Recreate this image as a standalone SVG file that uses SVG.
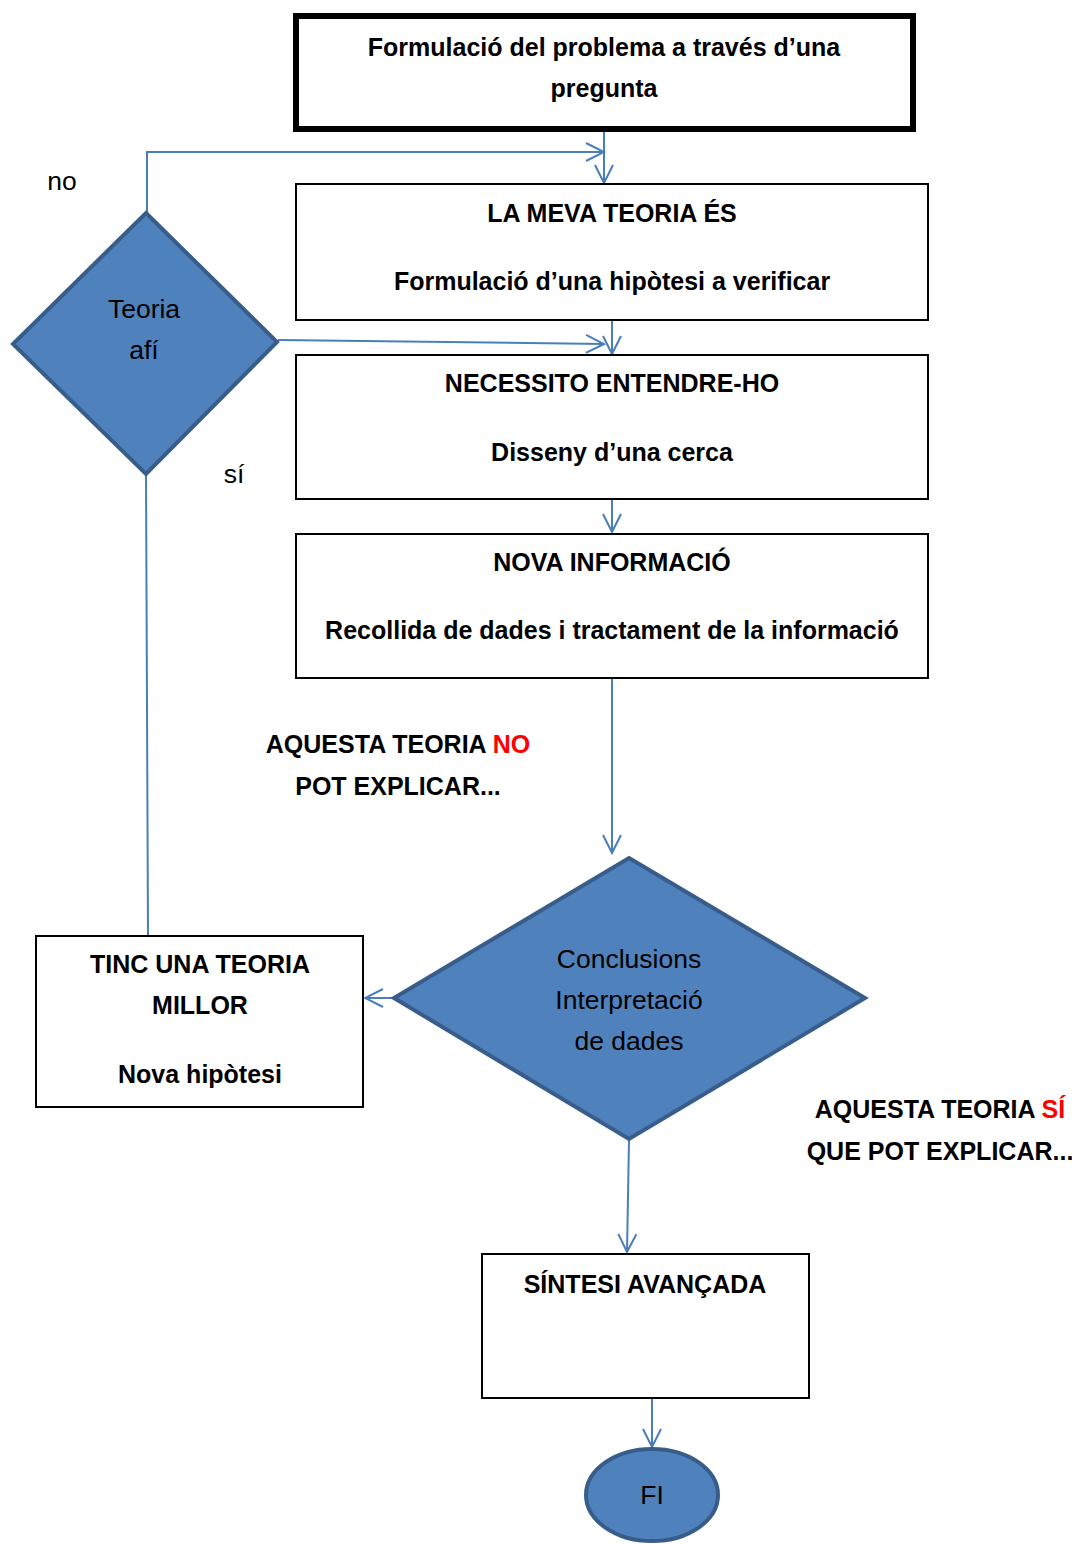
<svg xmlns="http://www.w3.org/2000/svg" width="1072" height="1544" viewBox="0 0 1072 1544">
<defs>
<marker id="arr" markerUnits="userSpaceOnUse" markerWidth="22" markerHeight="22" viewBox="0 0 22 22" refX="20" refY="11" orient="auto">
<path d="M2,2 L20,11 L2,20" fill="none" stroke="#4a7ebb" stroke-width="2"/>
</marker>
<style>
text{font-family:"Liberation Sans",Arial,sans-serif;fill:#000;text-anchor:middle}
.b{font-weight:bold;font-size:25px}
.n{font-size:26.5px}
.box{fill:#fff;stroke:#000;stroke-width:2}
.dia{fill:#4f81bd;stroke:#385d8a;stroke-width:4;stroke-linejoin:miter}
.c{fill:none;stroke:#4a7ebb;stroke-width:2}
.red{fill:#ff0000}
</style>
</defs>
<g id="connectors">
<line class="c" x1="604" y1="132" x2="604" y2="183" marker-end="url(#arr)"/>
<polyline class="c" points="147,212 147,152 604,152" marker-end="url(#arr)"/>
<line class="c" x1="612" y1="320" x2="612" y2="354" marker-end="url(#arr)"/>
<line class="c" x1="278" y1="340" x2="604" y2="344" marker-end="url(#arr)"/>
<line class="c" x1="612" y1="499" x2="612" y2="532" marker-end="url(#arr)"/>
<line class="c" x1="612" y1="678" x2="612" y2="853" marker-end="url(#arr)"/>
<line class="c" x1="393" y1="998" x2="365" y2="998" marker-end="url(#arr)"/>
<line class="c" x1="146" y1="475" x2="148" y2="936"/>
<line class="c" x1="629" y1="1140" x2="627" y2="1252" marker-end="url(#arr)"/>
<line class="c" x1="652" y1="1398" x2="652" y2="1447" marker-end="url(#arr)"/>
</g>
<g id="n-problem">
<rect x="296" y="16" width="617" height="113" fill="#fff" stroke="#000" stroke-width="6"/>
<text class="b" x="604" y="56">Formulació del problema a través d’una</text>
<text class="b" x="604" y="97">pregunta</text>
</g>
<g id="n-teoria">
<rect class="box" x="296" y="184" width="632" height="136"/>
<text class="b" x="612" y="222">LA MEVA TEORIA ÉS</text>
<text class="b" x="612" y="290">Formulació d’una hipòtesi a verificar</text>
</g>
<g id="n-entendre">
<rect class="box" x="296" y="355" width="632" height="144"/>
<text class="b" x="612" y="392">NECESSITO ENTENDRE-HO</text>
<text class="b" x="612" y="461">Disseny d’una cerca</text>
</g>
<g id="n-info">
<rect class="box" x="296" y="534" width="632" height="144"/>
<text class="b" x="612" y="571">NOVA INFORMACIÓ</text>
<text class="b" x="612" y="639">Recollida de dades i tractament de la informació</text>
</g>
<g id="n-afi">
<polygon class="dia" points="146,213 277,342 146,474 13,344"/>
<text class="n" x="144" y="318">Teoria</text>
<text class="n" x="144" y="359">afí</text>
</g>
<g id="n-conclusions">
<polygon class="dia" points="629,858 865,998 629,1139 394,998"/>
<text class="n" x="629" y="968">Conclusions</text>
<text class="n" x="629" y="1009">Interpretació</text>
<text class="n" x="629" y="1050">de dades</text>
</g>
<g id="n-millor">
<rect class="box" x="36" y="936" width="327" height="171"/>
<text class="b" x="200" y="973">TINC UNA TEORIA</text>
<text class="b" x="200" y="1014">MILLOR</text>
<text class="b" x="200" y="1083">Nova hipòtesi</text>
</g>
<g id="n-sintesi">
<rect class="box" x="482" y="1254" width="327" height="144"/>
<text class="b" x="645" y="1293">SÍNTESI AVANÇADA</text>
</g>
<g id="n-fi">
<ellipse cx="652" cy="1495" rx="66" ry="46" fill="#4f81bd" stroke="#385d8a" stroke-width="4"/>
<text class="n" x="652" y="1504">FI</text>
</g>
<g id="labels">
<text class="n" x="62" y="190">no</text>
<text class="n" x="234" y="483">sí</text>
<text class="b" x="398" y="753">AQUESTA TEORIA <tspan class="red">NO</tspan></text>
<text class="b" x="398" y="795">POT EXPLICAR...</text>
<text class="b" x="940" y="1118">AQUESTA TEORIA <tspan class="red">SÍ</tspan></text>
<text class="b" x="940" y="1160">QUE POT EXPLICAR...</text>
</g>
</svg>
